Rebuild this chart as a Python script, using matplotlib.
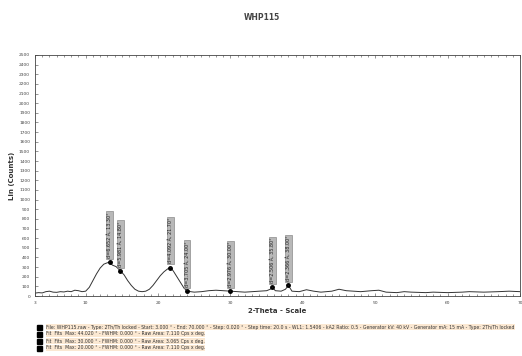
import matplotlib
matplotlib.use("Agg")
import matplotlib.pyplot as plt
from matplotlib.ticker import MultipleLocator

# ---- data ----
two_theta = [3, 3.5, 4, 4.5, 5, 5.5, 6, 6.5, 7, 7.5, 8, 8.5, 9, 9.5, 10, 10.5, 11, 11.5,
             12, 12.5, 13, 13.3, 13.7, 14.2, 14.8, 15.3, 15.8, 16.3, 16.8, 17.3, 17.8,
             18.3, 18.8, 19.3, 19.8, 20.3, 20.8, 21.3, 21.7, 22.1, 22.6, 23.1, 23.6, 24.0,
             24.5, 25, 26, 27, 28, 29, 30, 31, 32, 33, 34, 35, 35.5, 35.8, 36.2, 37, 37.6,
             38, 38.5, 39.5, 40.5, 41.5, 42.5, 44, 45, 46, 47, 48, 49.5, 50.5, 51.5, 53,
             54, 55, 57, 58, 60, 62, 63, 65, 67, 68.5, 70]
counts = [30, 35, 32, 45, 50, 40, 38, 45, 42, 50, 45, 60, 55, 45, 50, 90, 160, 230,
          290, 330, 345, 350, 320, 305, 260, 220, 160, 110, 70, 50, 45,
          50, 70, 110, 160, 210, 250, 280, 295, 260, 200, 140, 80, 55,
          45, 40, 45, 55, 60, 55, 50, 45, 40, 45, 50, 55, 70, 90, 55, 50, 70,
          110, 50, 45, 65, 50, 40, 50, 70, 55, 50, 45, 55, 60, 40, 35,
          45, 40, 35, 40, 35, 40, 45, 40, 45, 50, 45]

peak_pos = [13.3, 14.8, 21.7, 24.0, 30.0, 35.8, 38.0]
peak_cnt = [350, 260, 295, 55, 50, 90, 110]
peak_lbl = ["d=6.652 Å, 13.30°", "d=5.981 Å, 14.80°", "d=4.092 Å, 21.70°",
            "d=3.705 Å, 24.00°", "d=2.976 Å, 30.00°", "d=2.506 Å, 35.80°",
            "d=2.366 Å, 38.00°"]

y_ticks = list(range(0, 2600, 100))
x_ticks = [3, 10, 20, 30, 40, 50, 60, 70]

legend_lines = [
    "File: WHP115.raw - Type: 2Th/Th locked - Start: 3.000 ° - End: 70.000 ° - Step: 0.020 ° - Step time: 20.0 s - WL1: 1.5406 - kA2 Ratio: 0.5 - Generator kV: 40 kV - Generator mA: 15 mA - Type: 2Th/Th locked",
    "Fit  Fits  Max: 44.020 ° - FWHM: 0.000 ° - Raw Area: 7.110 Cps x deg.",
    "Fit  Fits  Max: 30.000 ° - FWHM: 0.000 ° - Raw Area: 3.065 Cps x deg.",
    "Fit  Fits  Max: 20.000 ° - FWHM: 0.000 ° - Raw Area: 7.110 Cps x deg.",
]

# ---- figure ----
fig = plt.figure(figsize=(5.22, 3.56), dpi=100)
ax = fig.add_axes([35/522, 1-296/356, 485/522, 241/356])
ax.plot(two_theta, counts, color="#333333", lw=0.7)
ax.plot(peak_pos, peak_cnt, "o", color="black", ms=2.5)

for p, c, t in zip(peak_pos, peak_cnt, peak_lbl):
    ax.annotate(t, (p, c), xytext=(0, 3), textcoords="offset points",
                rotation=90, ha="center", va="bottom", fontsize=3.5, color="#222222",
                bbox=dict(boxstyle="square,pad=0.2", fc="#b8b8b8", ec="#777777", lw=0.4),
                arrowprops=dict(arrowstyle="-", color="#555555", lw=0.4))

ax.set_xlim(3, 70)
ax.set_ylim(0, 2500)
ax.set_yticks(y_ticks)
ax.set_xticks(x_ticks)
ax.xaxis.set_minor_locator(MultipleLocator(1))
ax.tick_params(axis="both", which="both", direction="in", top=True, labelsize=3.2,
               length=2, width=0.4, colors="#444444")
ax.tick_params(axis="both", which="minor", length=1.2)
for s in ax.spines.values():
    s.set_linewidth(0.6)
    s.set_color("#444444")

ax.set_ylabel("Lin (Counts)", fontsize=5, fontweight="bold", color="#333333", labelpad=3)
ax.set_xlabel("2-Theta - Scale", fontsize=5, fontweight="bold", color="#333333", labelpad=2)

fig.text(262/522, 1-17/356, "WHP115", ha="center", va="center", fontsize=5.5,
         fontweight="bold", color="#444444")

for i, line in enumerate(legend_lines):
    y = 1 - (327 + i*7)/356
    fig.patches.append(plt.Rectangle((37/522, y-2.5/356), 5/522, 5/356,
                                     transform=fig.transFigure, color="black"))
    fig.text(46/522, y, line, ha="left", va="center", fontsize=3.35, color="#333333",
             bbox=dict(boxstyle="square,pad=0.05", fc="#fbe8d2", ec="none"))

fig.savefig("out.png", dpi=100, facecolor="white")
